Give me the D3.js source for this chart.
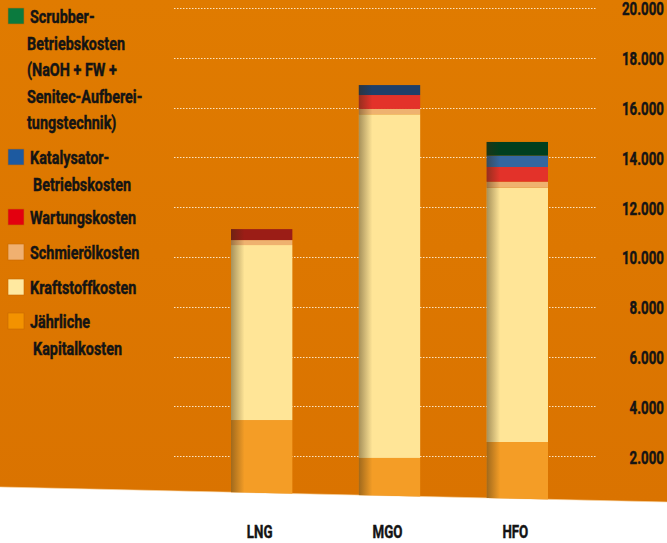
<!DOCTYPE html>
<html>
<head>
<meta charset="utf-8">
<script src="https://cdn.jsdelivr.net/npm/d3@7"></script>
<style>
  html, body { margin: 0; padding: 0; background: #fff; }
  svg text { font-family: Roboto, "DejaVu Sans Condensed", sans-serif; font-weight: bold; fill: #141414; stroke: #141414; stroke-width: 0.45px; }
</style>
</head>
<body>
<svg id="chart"></svg>
<script>
// data
const categories = ['LNG', 'MGO', 'HFO'];
const series = ['Kapital', 'Kraftstoff', 'Schmieroel', 'Wartung', 'Katalysator', 'Scrubber'];
const kapital     = [3450, 1930, 2570];
const kraftstoff  = [7030, 13800, 10215];
const schmieroel  = [200, 215, 240];
const wartung     = [440, 560, 590];
const katalysator = [0, 400, 455];
const scrubber    = [0, 0, 550];
const tickValues  = [2000, 4000, 6000, 8000, 10000, 12000, 14000, 16000, 18000, 20000];

const legendItems = [
  { key: 'Scrubber', lines: ['Scrubber-', 'Betriebskosten', '(NaOH + FW +', 'Senitec-Aufberei-', 'tungstechnik)'] },
  { key: 'Katalysator', lines: ['Katalysator-', 'Betriebskosten'] },
  { key: 'Wartung', lines: ['Wartungskosten'] },
  { key: 'Schmieroel', lines: ['Schmierölkosten'] },
  { key: 'Kraftstoff', lines: ['Kraftstoffkosten'] },
  { key: 'Kapital', lines: ['Jährliche', 'Kapitalkosten'] }
];

const barColor = {
  Kapital: '#f49d26', Kraftstoff: '#ffe597', Schmieroel: '#efb26f',
  Wartung: '#e3322a', Katalysator: '#3467a0', Scrubber: '#003f1e'
};
const barColorOverride = { 'LNG-Wartung': '#9b1d16', 'MGO-Katalysator': '#1f3f69' };
const legendColor = {
  Kapital: '#f39200', Kraftstoff: '#ffe9a0', Schmieroel: '#f0b070',
  Wartung: '#e3000f', Katalysator: '#1d5aa0', Scrubber: '#0b7a3e'
};

const width = 667, height = 543;
const squeezeAxis = 0.74;    // narrow the font to look condensed
const squeezeLegend = 0.8;

const svg = d3.select('#chart')
  .attr('width', width)
  .attr('height', height);

const defs = svg.append('defs');

// slanted bottom edge of the orange panel
const panel = [[0, 0], [width, 0], [width, 502], [0, 487]];
defs.append('clipPath').attr('id', 'panelClip')
  .append('path').attr('d', 'M' + panel.join('L') + 'Z');

const bg = defs.append('linearGradient').attr('id', 'bgGrad')
  .attr('x1', 0).attr('y1', 0).attr('x2', 0).attr('y2', 1);
bg.append('stop').attr('offset', 0).attr('stop-color', '#e07b00');
bg.append('stop').attr('offset', 1).attr('stop-color', '#da7300');

const shade = defs.append('linearGradient').attr('id', 'shade')
  .attr('x1', 0).attr('y1', 0).attr('x2', 1).attr('y2', 0);
shade.append('stop').attr('offset', 0).attr('stop-color', '#3a2a10').attr('stop-opacity', 0.45);
shade.append('stop').attr('offset', 0.22).attr('stop-color', '#3a2a10').attr('stop-opacity', 0);

svg.append('path')
  .attr('d', 'M' + panel.join('L') + 'Z')
  .attr('fill', 'url(#bgGrad)');

svg.append('line')
  .attr('x1', 0).attr('y1', 487).attr('x2', width).attr('y2', 502)
  .attr('stroke', '#fbd9a8').attr('stroke-width', 1).attr('opacity', 0.6);

// scales
const y = d3.scaleLinear().domain([0, 20000]).range([506, 8]);
const x = d3.scaleBand().domain(categories).range([231, 548]).paddingInner(0.52).paddingOuter(0);

const de = d3.formatLocale({ decimal: ',', thousands: '.', grouping: [3], currency: ['', ' €'] });
const fmt = de.format(',');

// gridlines
svg.append('g')
  .selectAll('line')
  .data(tickValues)
  .join('line')
  .attr('x1', 174).attr('x2', 597)
  .attr('y1', d => Math.round(y(d)) + 0.5)
  .attr('y2', d => Math.round(y(d)) + 0.5)
  .attr('stroke', '#fbe3c0')
  .attr('stroke-width', 1.2)
  .attr('stroke-dasharray', '1.5,1.5');

// axis labels on the right
const axis = svg.append('g')
  .attr('transform', 'translate(664,0)')
  .call(d3.axisLeft(y).tickValues(tickValues).tickSize(0).tickPadding(0).tickFormat(fmt));
axis.select('.domain').remove();
axis.selectAll('text')
  .attr('x', 0)
  .attr('font-size', 18)
  .attr('dy', '0.38em')
  .attr('transform', `scale(${squeezeAxis},1)`);

// stacked bars
const table = categories.map((c, i) => ({
  cat: c,
  Kapital: kapital[i], Kraftstoff: kraftstoff[i], Schmieroel: schmieroel[i],
  Wartung: wartung[i], Katalysator: katalysator[i], Scrubber: scrubber[i]
}));
const stacked = d3.stack().keys(series)(table);

const bars = svg.append('g').attr('clip-path', 'url(#panelClip)');
bars.selectAll('g.layer')
  .data(stacked)
  .join('g').attr('class', 'layer')
  .selectAll('rect')
  .data(layer => layer.map(d => ({ key: layer.key, d })))
  .join('rect')
  .attr('x', e => x(e.d.data.cat))
  .attr('width', x.bandwidth())
  .attr('y', e => y(e.d[1]))
  .attr('height', e => Math.max(0, y(e.d[0]) - y(e.d[1])))
  .attr('fill', e => barColorOverride[e.d.data.cat + '-' + e.key] || barColor[e.key]);

// shading on the left edge of each bar
bars.selectAll('rect.shade')
  .data(table)
  .join('rect').attr('class', 'shade')
  .attr('x', d => x(d.cat))
  .attr('width', x.bandwidth())
  .attr('y', d => y(d3.sum(series, k => d[k])))
  .attr('height', d => y(0) - y(d3.sum(series, k => d[k])))
  .attr('fill', 'url(#shade)');

// category labels
svg.append('g')
  .selectAll('text')
  .data(categories)
  .join('text')
  .attr('transform', d => `translate(${x(d) + x.bandwidth() / 2 - 2},538) scale(${squeezeAxis},1)`)
  .attr('text-anchor', 'middle')
  .attr('font-size', 18)
  .text(d => d);

// legend
const lineH = 26.5;
const legendTops = [8, 149, 209, 244, 279, 313];
const lg = svg.append('g');
legendItems.forEach((item, i) => {
  const top = legendTops[i];
  lg.append('rect')
    .attr('x', 8).attr('y', top).attr('width', 16).attr('height', 16)
    .attr('fill', legendColor[item.key])
    .attr('stroke', '#c86a00').attr('stroke-width', 0.6);
  item.lines.forEach((t, j) => {
    const tx = j === 0 ? 30 : (item.key === 'Scrubber' ? 27 : 33);
    lg.append('text')
      .attr('transform', `translate(${tx},${top + 15 + j * lineH}) scale(${squeezeLegend},1)`)
      .attr('font-size', 18)
      .text(t);
  });
});
</script>
</body>
</html>
